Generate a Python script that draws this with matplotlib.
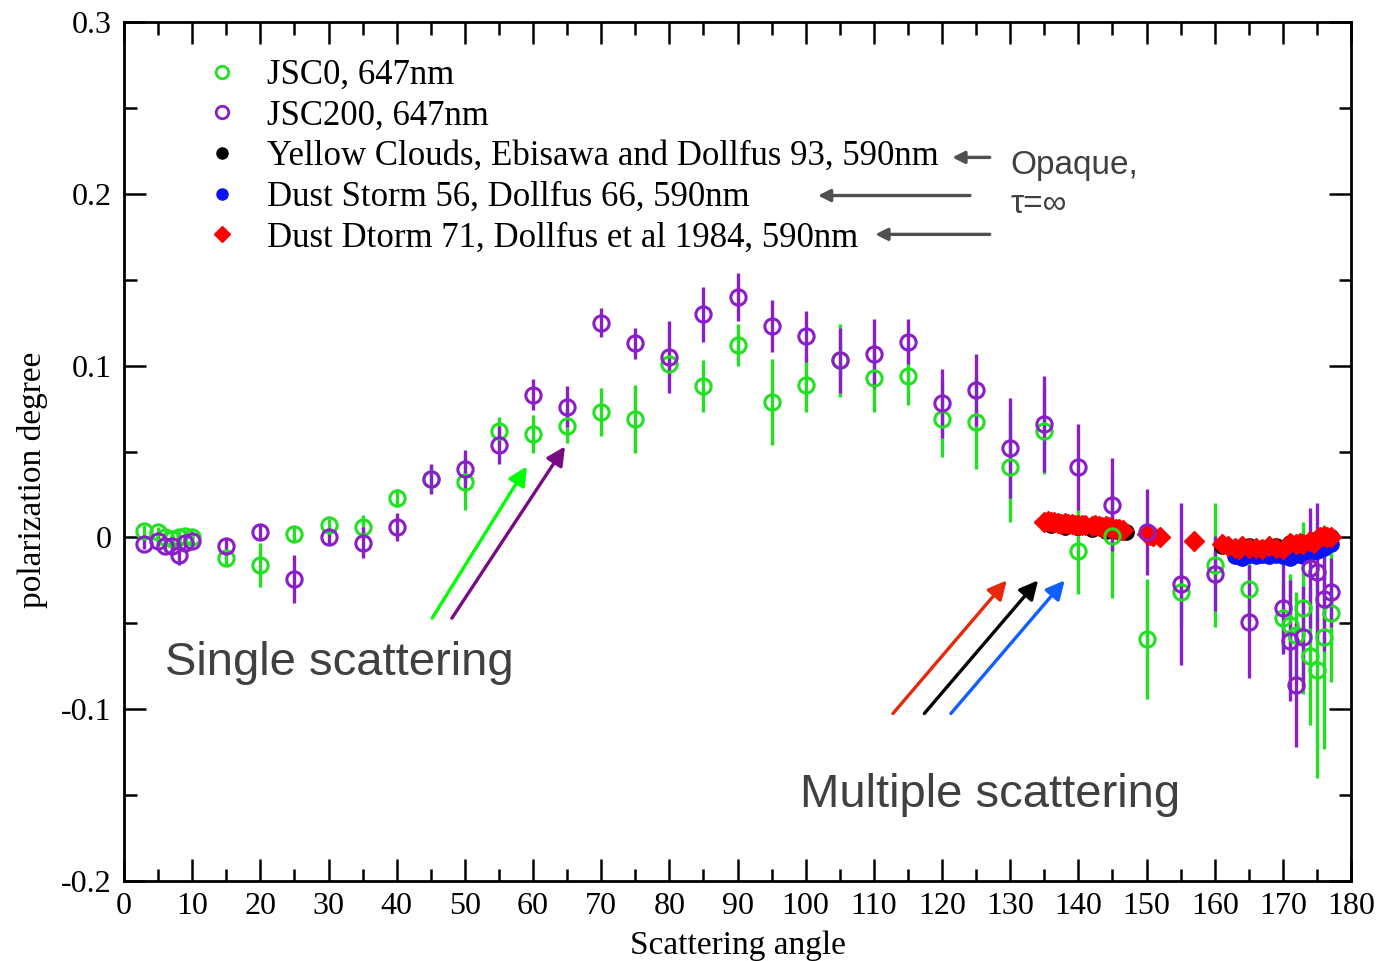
import matplotlib
matplotlib.use("Agg")
import matplotlib.pyplot as plt
from matplotlib.lines import Line2D
from matplotlib.ticker import MultipleLocator

plt.rcParams['font.family'] = ['Liberation Serif', 'DejaVu Serif']

# scattering angles shared by the two JSC samples
angles = [3, 5, 6, 7, 8, 9, 10, 15, 20, 25, 30, 35, 40, 45, 50, 55, 60, 65, 70, 75,
          80, 85, 90, 95, 100, 105, 110, 115, 120, 125, 130, 135, 140, 145, 150, 155,
          160, 165, 170, 171, 172, 173, 174, 175, 176, 177]

# JSC0, 647nm
jsc0 = [0.004, 0.003, 0.0, -0.001, 0.0, 0.001, 0.0, -0.012, -0.016, 0.002, 0.007,
        0.006, 0.023, 0.034, 0.032, 0.062, 0.060, 0.065, 0.073, 0.069, 0.101, 0.088,
        0.112, 0.079, 0.089, 0.103, 0.093, 0.094, 0.069, 0.067, 0.041, 0.062, -0.008,
        0.001, -0.059, -0.032, -0.016, -0.030, -0.047, -0.051, -0.057, -0.041, -0.069,
        -0.077, -0.058, -0.044]
jsc0_err = [0.003, 0.003, 0.003, 0.003, 0.003, 0.003, 0.003, 0.004, 0.013, 0.004,
            0.004, 0.007, 0.005, 0.008, 0.016, 0.008, 0.011, 0.010, 0.014, 0.020,
            0.005, 0.015, 0.0125, 0.025, 0.016, 0.021, 0.020, 0.017, 0.022, 0.027,
            0.032, 0.025, 0.025, 0.036, 0.035, 0.020, 0.036, 0.020, 0.020, 0.030,
            0.025, 0.050, 0.040, 0.063, 0.065, 0.040]

# JSC200, 647nm
jsc200 = [-0.004, -0.002, -0.005, -0.005, -0.010, -0.003, -0.002, -0.005, 0.003,
          -0.024, 0.0, -0.003, 0.006, 0.034, 0.040, 0.054, 0.083, 0.076, 0.125, 0.113,
          0.105, 0.130, 0.140, 0.123, 0.117, 0.103, 0.107, 0.114, 0.078, 0.086, 0.052,
          0.066, 0.041, 0.019, 0.003, -0.027, -0.021, -0.049, -0.041, -0.060, -0.086,
          -0.058, -0.018, -0.020, -0.036, -0.032]
jsc200_err = [0.003, 0.003, 0.003, 0.003, 0.006, 0.003, 0.003, 0.004, 0.004, 0.014,
              0.004, 0.009, 0.008, 0.009, 0.011, 0.011, 0.009, 0.012, 0.0085, 0.009,
              0.021, 0.016, 0.014, 0.015, 0.015, 0.019, 0.020, 0.013, 0.020, 0.021,
              0.029, 0.028, 0.025, 0.027, 0.025, 0.047, 0.022, 0.033, 0.027, 0.035,
              0.036, 0.030, 0.035, 0.040, 0.030, 0.020]

# Yellow Clouds, Ebisawa and Dollfus 93
yc_ang = [136, 138, 140, 142, 144, 146, 147, 161, 163, 165, 167, 169, 171, 173, 175, 177]
yc_pol = [0.007, 0.006, 0.006, 0.005, 0.004, 0.003, 0.003, -0.005, -0.006, -0.005,
          -0.006, -0.005, -0.003, -0.003, -0.001, 0.0]

# Dust Storm 56, Dollfus 66
ds56_ang = [163, 164, 165, 166, 167, 168, 169, 170, 171, 172, 173, 174, 175, 176, 177]
ds56_pol = [-0.011, -0.012, -0.010, -0.011, -0.010, -0.011, -0.010, -0.011, -0.012,
            -0.010, -0.011, -0.009, -0.008, -0.006, -0.004]

# Dust Dtorm 71, Dollfus et al 1984
ds71_ang = [135, 135.5, 136, 136.5, 137, 137.5, 138, 138.5, 139, 139.5, 140, 140.5,
            141, 142, 142.5, 143, 143.5, 144, 144.5, 145, 145.5, 146, 146.5, 150,
            150.5, 151, 152, 157, 161, 162, 163, 163.5, 164, 165, 166, 167, 168, 169,
            170, 171, 172, 172.5, 173, 174, 174.5, 175, 175.5, 176, 176.5, 177]
ds71_pol = [0.009, 0.0095, 0.009, 0.0088, 0.0085, 0.008, 0.0085, 0.008, 0.0078,
            0.0075, 0.0075, 0.007, 0.007, 0.0068, 0.007, 0.0065, 0.006, 0.0065, 0.006,
            0.0055, 0.005, 0.005, 0.0045, 0.002, 0.0015, 0.001, 0.0, -0.002, -0.004,
            -0.005, -0.006, -0.007, -0.005, -0.006, -0.006, -0.007, -0.005, -0.006,
            -0.007, -0.003, -0.004, -0.003, -0.004, -0.002, -0.003, -0.001, 0.0, 0.001,
            0.0, 0.0]

green = '#22e022'
purple = '#8a1ec8'

fig = plt.figure(figsize=(13.98, 9.61), dpi=100)
ax = fig.add_axes([0.0887, 0.0832, 0.8777, 0.8939])

ax.errorbar(angles, jsc0, yerr=jsc0_err, fmt='o', mfc='none', mec=green, ecolor=green,
            ms=11, mew=2.2, elinewidth=2.4, capsize=0)
ax.errorbar(angles, jsc200, yerr=jsc200_err, fmt='o', mfc='none', mec=purple,
            ecolor=purple, ms=11, mew=2.2, elinewidth=2.4, capsize=0)
ax.plot(yc_ang, yc_pol, 'o', color='black', ms=11)
ax.plot(ds56_ang, ds56_pol, 'o', color='#0a14f0', ms=11)
ax.plot(ds71_ang, ds71_pol, 'D', color='#ff0000', ms=10.5)

ax.set_xlim(0, 180)
ax.set_ylim(-0.2, 0.3)
ax.xaxis.set_major_locator(MultipleLocator(10))
ax.xaxis.set_minor_locator(MultipleLocator(5))
ax.yaxis.set_major_locator(MultipleLocator(0.1))
ax.yaxis.set_minor_locator(MultipleLocator(0.05))
ax.yaxis.set_major_formatter(plt.FuncFormatter(lambda v, p: '0' if abs(v) < 1e-9 else '%g' % round(v, 2)))
ax.tick_params(which='both', direction='in', top=True, right=True, width=1.8, labelsize=23)
ax.tick_params(which='major', length=16)
ax.tick_params(which='minor', length=9)
ax.tick_params(axis='x', pad=8)
ax.tick_params(axis='y', pad=9)
for s in ax.spines.values():
    s.set_linewidth(2)
ax.set_xlabel('Scattering angle', fontsize=24, labelpad=7)
ax.set_ylabel('polarization degree', fontsize=24)
ax.yaxis.set_label_coords(-0.062, 0.467)

handles = [
    Line2D([], [], ls='none', marker='o', mfc='none', mec=green, ms=9, mew=2),
    Line2D([], [], ls='none', marker='o', mfc='none', mec=purple, ms=9, mew=2),
    Line2D([], [], ls='none', marker='o', color='black', ms=8),
    Line2D([], [], ls='none', marker='o', color='#0a14f0', ms=8),
    Line2D([], [], ls='none', marker='D', color='#ff0000', ms=8),
]
labels = ['JSC0, 647nm', 'JSC200, 647nm',
          'Yellow Clouds, Ebisawa and Dollfus 93, 590nm',
          'Dust Storm 56, Dollfus 66, 590nm',
          'Dust Dtorm 71, Dollfus et al 1984, 590nm']
ax.legend(handles, labels, loc='upper left', bbox_to_anchor=(0.066, 0.957), frameon=False,
          fontsize=25, handlelength=1.0, handletextpad=0.8, labelspacing=0.22,
          borderaxespad=0, borderpad=0)

sans = ['Liberation Sans', 'DejaVu Sans']
gray = '#404040'
ax.text(6.0, -0.080, 'Single scattering', fontsize=34, color=gray, family=sans)
ax.text(99.2, -0.157, 'Multiple scattering', fontsize=34, color=gray, family=sans)
ax.text(130.0, 0.2165, 'Opaque,', fontsize=24, color=gray, family=sans, va='center')
ax.text(130.0, 0.194, 'τ=∞', fontsize=24, color=gray, family=sans, va='center')

# arrows pointing at the data
color_arrows = [
    ((45.2, -0.047), (59.1, 0.0413), '#00ff00'),
    ((48.1, -0.047), (64.7, 0.053), '#7a0a82'),
    ((112.8, -0.1025), (129.5, -0.025), '#e8280a'),
    ((117.4, -0.1025), (134.1, -0.025), 'black'),
    ((121.3, -0.1025), (138.0, -0.025), '#1060ff'),
]
for tail, head, c in color_arrows:
    ax.annotate('', xy=head, xytext=tail,
                arrowprops=dict(arrowstyle='-|>', color=c, lw=2.4, mutation_scale=28,
                                shrinkA=0, shrinkB=0))

gray_arrows = [((127.0, 0.2212), (121.5, 0.2212)),
               ((124.1, 0.199), (101.8, 0.199)),
               ((127.0, 0.1764), (110.2, 0.1764))]
for tail, head in gray_arrows:
    ax.annotate('', xy=head, xytext=tail,
                arrowprops=dict(arrowstyle='-|>', color='#505050', lw=2.4, mutation_scale=18,
                                shrinkA=0, shrinkB=0))

fig.savefig('out.png', dpi=100)
